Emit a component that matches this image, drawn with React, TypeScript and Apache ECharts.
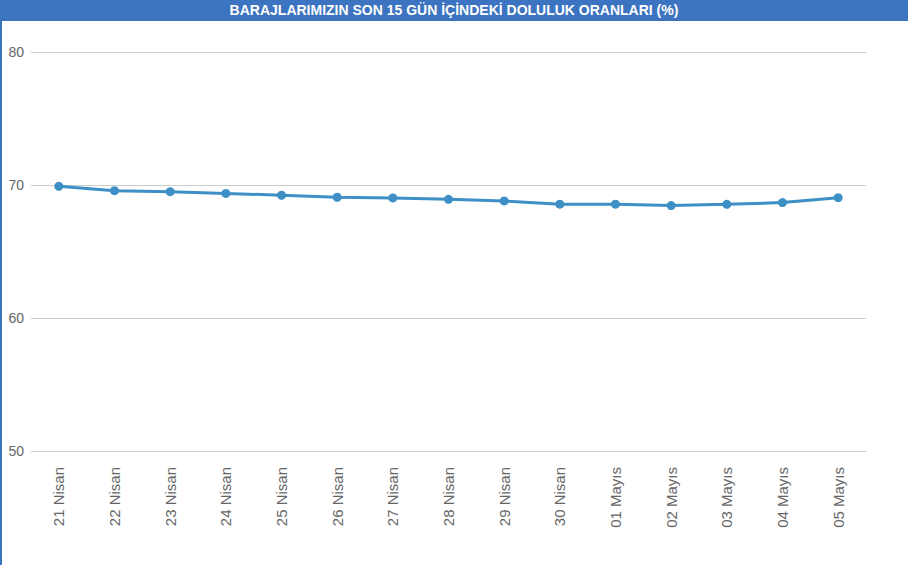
import React, { useEffect, useRef } from "react";
import * as echarts from "echarts";

const titleText = "BARAJLARIMIZIN SON 15 GÜN İÇİNDEKİ DOLULUK ORANLARI (%)";
const categories = [
  "21 Nisan", "22 Nisan", "23 Nisan", "24 Nisan", "25 Nisan", "26 Nisan", "27 Nisan",
  "28 Nisan", "29 Nisan", "30 Nisan", "01 Mayıs", "02 Mayıs", "03 Mayıs", "04 Mayıs", "05 Mayıs",
];
const values = [69.9, 69.57, 69.5, 69.37, 69.23, 69.08, 69.03, 68.92, 68.8, 68.56, 68.56, 68.45, 68.55, 68.68, 69.05];
const yMin = 50;
const yMax = 80;
const yInterval = 10;

export default function App() {
  const ref = useRef<HTMLDivElement>(null);
  useEffect(() => {
    if (!ref.current) return;
    const chart = echarts.init(ref.current, undefined, { renderer: "svg" });
    chart.setOption({
      animation: false,
      backgroundColor: "#ffffff",
      graphic: [
        { type: "rect", left: 0, top: 0, shape: { width: 908, height: 21 }, style: { fill: "#3c74c1" }, z: 0 },
        { type: "rect", left: 0, top: 21, shape: { width: 2, height: 544 }, style: { fill: "#3c74c1" }, z: 0 },
      ],
      title: {
        text: titleText,
        left: "center",
        top: 3,
        padding: 0,
        textStyle: {
          color: "#ffffff",
          fontFamily: "Liberation Sans, Arial, sans-serif",
          fontWeight: "bold",
          fontSize: 14,
        },
      },
      grid: { left: 31, right: 42, top: 52, bottom: 114, containLabel: false },
      xAxis: {
        type: "category",
        data: categories,
        boundaryGap: true,
        axisLine: { show: false },
        axisTick: { show: false },
        axisLabel: {
          rotate: 90,
          margin: 16,
          color: "#666666",
          fontSize: 15,
          fontFamily: "Liberation Sans, Arial, sans-serif",
          interval: 0,
        },
      },
      yAxis: {
        type: "value",
        min: yMin,
        max: yMax,
        interval: yInterval,
        axisLine: { show: false },
        axisTick: { show: false },
        axisLabel: {
          margin: 7,
          color: "#666666",
          fontSize: 14,
          fontFamily: "Liberation Sans, Arial, sans-serif",
        },
        splitLine: { lineStyle: { color: "#cccccc", width: 1 } },
      },
      series: [
        {
          type: "line",
          data: values,
          symbol: "circle",
          symbolSize: 9,
          showSymbol: true,
          itemStyle: { color: "#3d8fc5" },
          lineStyle: { color: "#3d8fc5", width: 3 },
        },
      ],
    });
    return () => chart.dispose();
  }, []);
  return (
    <div style={{ position: "absolute", left: 0, top: 0, width: 908, height: 565, background: "#fff" }}>
      <div ref={ref} style={{ width: 908, height: 565 }} />
    </div>
  );
}
